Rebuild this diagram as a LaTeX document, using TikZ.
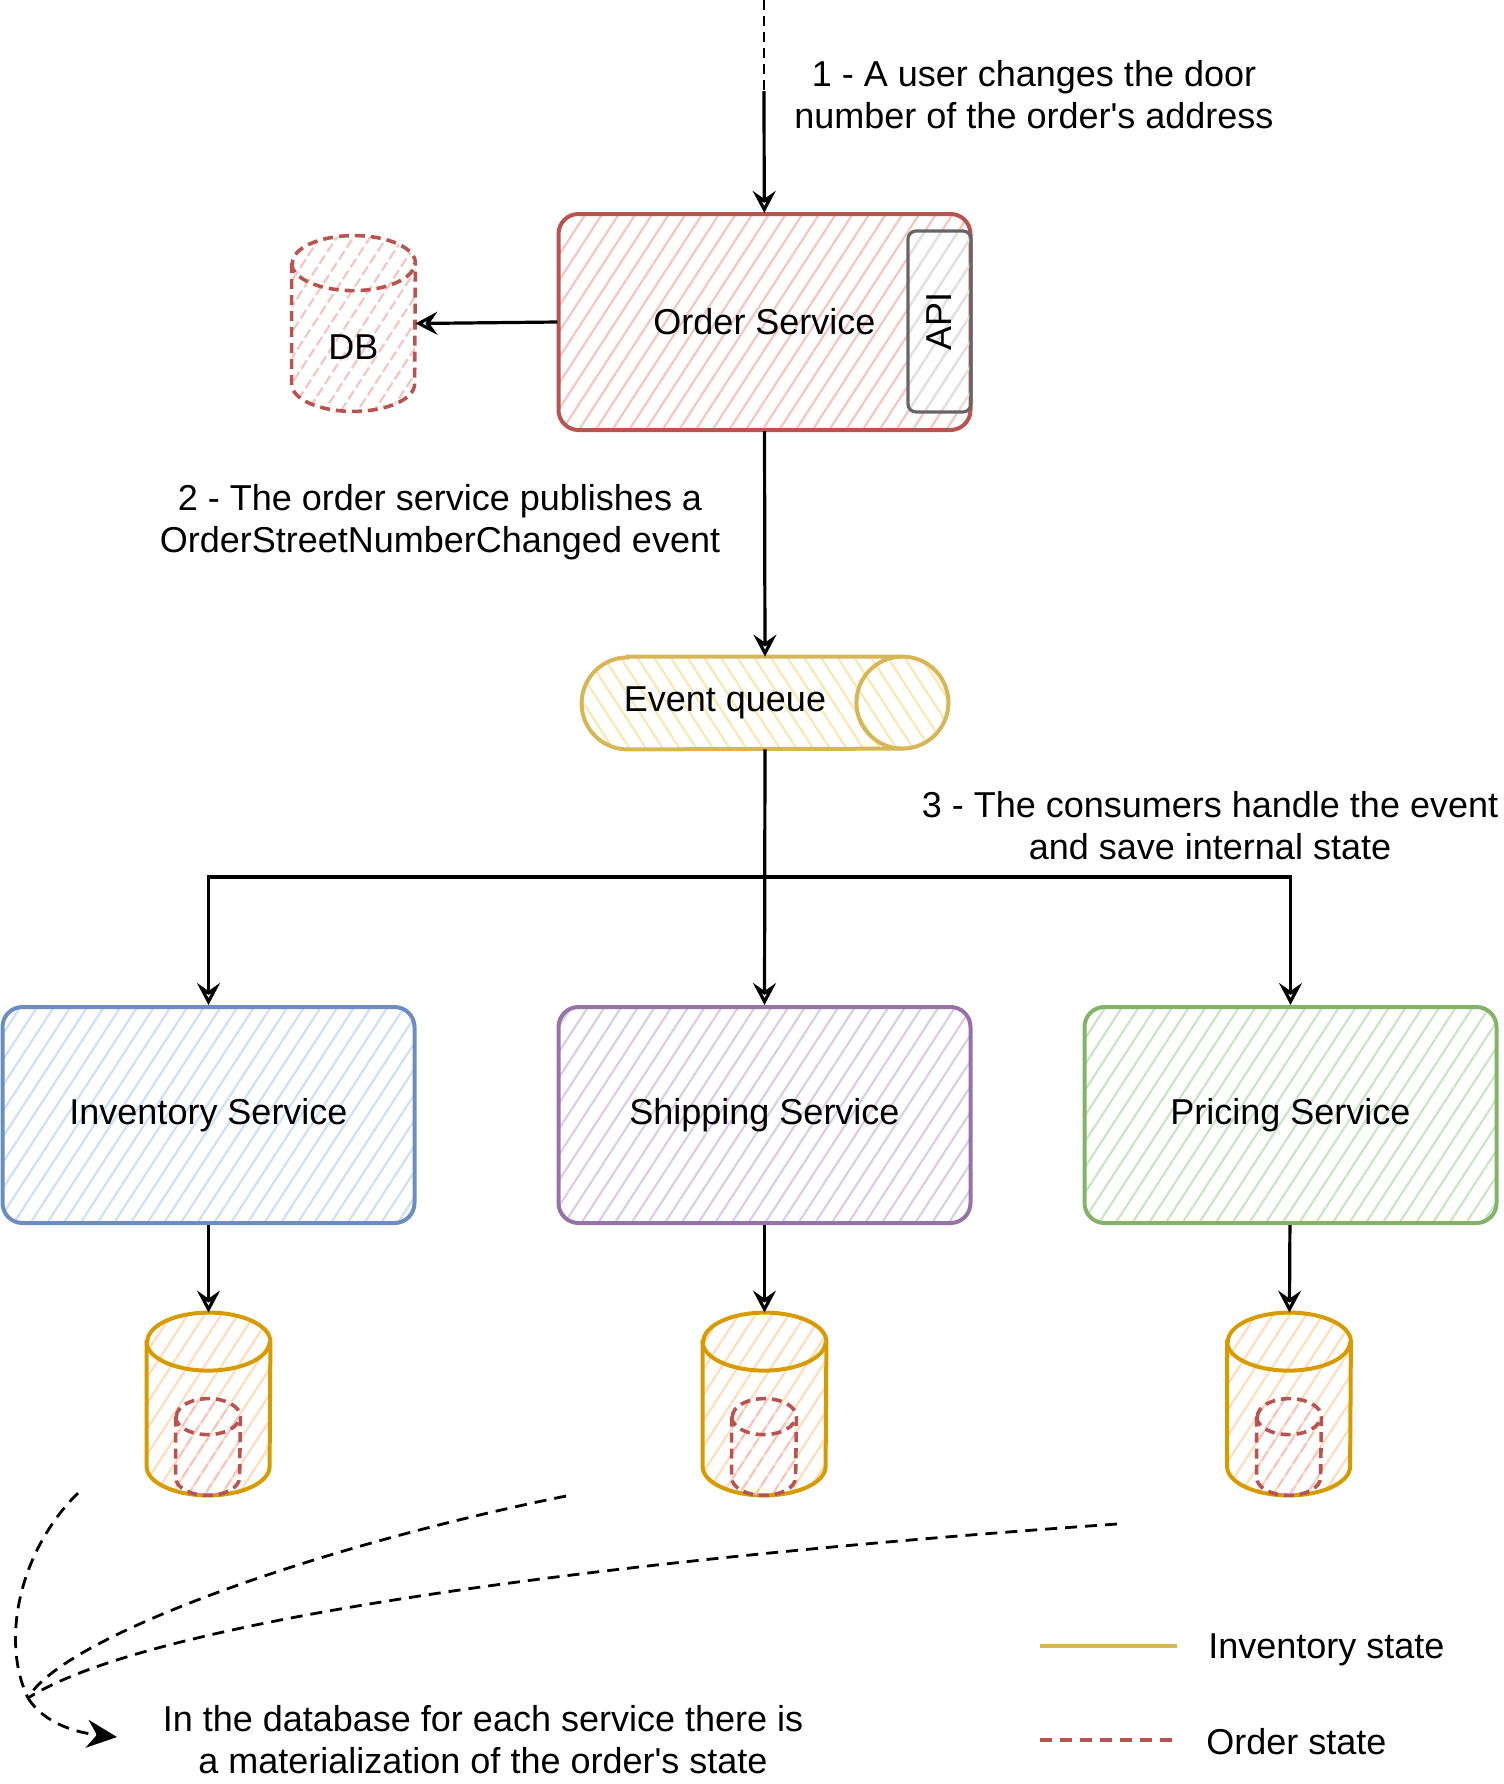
\documentclass[tikz,border=0pt]{standalone}
\usepackage{fontspec}
\setmainfont{Liberation Sans}
\usetikzlibrary{arrows.meta,patterns.meta}

\definecolor{ordline}{HTML}{B85450}
\definecolor{ordfill}{HTML}{F6C4C1}
\definecolor{apiline}{HTML}{666666}
\definecolor{apifill}{HTML}{E2E2E2}
\definecolor{queline}{HTML}{D6B656}
\definecolor{quefill}{HTML}{FBE8B0}
\definecolor{invline}{HTML}{6C8EBF}
\definecolor{invfill}{HTML}{CCE0F8}
\definecolor{shipline}{HTML}{9673A6}
\definecolor{shipfill}{HTML}{DCCCE4}
\definecolor{priceline}{HTML}{82B366}
\definecolor{pricefill}{HTML}{C9E4C6}
\definecolor{dbline}{HTML}{D79B00}
\definecolor{dbfill}{HTML}{FFDDBA}

% upright can round a node: name, half width, cap radius, line look, fill look
\newcommand{\drawcan}[5]{%
  \path[#4, #5] ([yshift=-#3]#1.north west) -- ([yshift=#3]#1.south west)
    arc[start angle=180, end angle=360, x radius=#2, y radius=#3]
    -- ([yshift=-#3]#1.north east)
    arc[start angle=0, end angle=180, x radius=#2, y radius=#3] -- cycle;
  \draw[#4] ([yshift=-#3]#1.north west)
    arc[start angle=180, end angle=360, x radius=#2, y radius=#3];
}

\begin{document}
\begin{tikzpicture}[x=0.5pt, y=-0.5pt,
    font=\fontsize{18}{21}\selectfont,
    hatch/.style={pattern={Lines[angle=57, distance=7pt, line width=1.1pt]},
        pattern color=#1},
    backhatch/.style={pattern={Lines[angle=123, distance=7pt, line width=1.1pt]},
        pattern color=#1},
    service/.style={rectangle, rounded corners=10pt, line width=2pt,
        minimum width=206pt, minimum height=108pt},
    holder/.style={rectangle, inner sep=0pt},
    store/.style={holder, minimum width=61.5pt, minimum height=91pt},
    orderstate/.style={holder, minimum width=32pt, minimum height=48pt},
    flow/.style={line width=1.6pt, -{Stealth[open, length=11pt, width=11.5pt, inset=4pt]}},
    remark/.style={line width=1.4pt, dash pattern=on 6pt off 4pt}
]
    \useasboundingbox (0,0) rectangle (1504,1784);

    % order side
    \node[service, draw=ordline, hatch=ordfill] (order) at (764.5,322) {Order Service};
    \node[rectangle, rotate=90, rounded corners=4pt, line width=1.6pt, draw=apiline,
        hatch=apifill, minimum width=90.5pt, minimum height=31.5pt] (api) at (939.5,321.5) {API};
    \node[holder, minimum width=61.5pt, minimum height=87.5pt] (db) at (353.5,323.5) {};
    \drawcan{db}{30.75pt}{13.75pt}{draw=ordline, line width=1.8pt, dash pattern=on 5pt off 3pt}{hatch=ordfill}
    \node (dblabel) at ([yshift=-12pt]db.center) {DB};

    \node[holder, minimum width=183pt, minimum height=46pt] (queue) at (765,703) {};
    \path[draw=queline, line width=2pt, backhatch=quefill]
        ([xshift=23pt]queue.north west) -- ([xshift=-23pt]queue.north east)
        arc[start angle=90, end angle=-90, x radius=23pt, y radius=23pt]
        -- ([xshift=23pt]queue.south west)
        arc[start angle=270, end angle=90, x radius=23pt, y radius=23pt] -- cycle;
    \draw[queline, line width=2pt] ([xshift=-23pt]queue.north east)
        arc[start angle=90, end angle=270, x radius=23pt, y radius=23pt];
    \node (quelabel) at ([xshift=-20pt]queue.center) {Event queue};

    % consumers
    \node[service, draw=invline, hatch=invfill] (inv) at (208.5,1115) {Inventory Service};
    \node[service, draw=shipline, hatch=shipfill] (ship) at (764.5,1115) {Shipping Service};
    \node[service, draw=priceline, hatch=pricefill] (price) at (1290.5,1115) {Pricing Service};

    \node[store] (invdb) at (208.5,1404) {};
    \node[store] (shipdb) at (764.5,1404) {};
    \node[store] (pricedb) at (1289,1404) {};
    \node[orderstate] (invord) at (208,1447) {};
    \node[orderstate] (shipord) at (764,1447) {};
    \node[orderstate] (priceord) at (1289,1447) {};
    \foreach \s in {invdb, shipdb, pricedb} {
        \drawcan{\s}{30.75pt}{14.5pt}{draw=dbline, line width=2pt}{hatch=dbfill}
    }
    \foreach \s in {invord, shipord, priceord} {
        \drawcan{\s}{16pt}{9pt}{draw=ordline, line width=1.8pt, dash pattern=on 5pt off 3pt}{hatch=ordfill}
    }

    % steps
    \node[align=center] (step1) at (1034,95) {1 - A user changes the door\\number of the order\textquotesingle s address};
    \node[align=center] (step2) at (440,522) {2 - The order service publishes a\\OrderStreetNumberChanged event};
    \node[align=center] (step3) at (1210,826) {3 - The consumers handle the event\\and save internal state};
    \node[align=center] (summary) at (483,1740) {In the database for each service there is\\a materialization of the order\textquotesingle s state};

    \coordinate (entry) at (764,0);
    \coordinate (entrydash) at (764,91);
    \draw[line width=1.3pt, dash pattern=on 5pt off 3pt] (entry) -- (entrydash);
    \draw[flow] (entrydash) -- (order);
    \draw[flow] (order.west) -- (db.east);
    \draw[flow] (order.south) -- (queue.north);

    \coordinate (split) at (765,877);
    \draw[flow] (queue.south) -- (ship.north);
    \draw[flow] (split) -| (inv.north);
    \draw[flow] (split) -| (price.north);

    \draw[flow] (inv) -- (invdb);
    \draw[flow] (ship) -- (shipdb);
    \draw[flow] (price) -- (pricedb);

    % materialization remark
    \coordinate (from1) at (78,1493);
    \coordinate (from2) at (566,1496);
    \coordinate (from3) at (1117,1524);
    \coordinate (merge) at (28,1698);
    \coordinate (tip) at (117,1737);
    \draw[remark] (from1) .. controls (20,1550) and (0,1640) .. (merge);
    \draw[remark] (from2) .. controls (300,1550) and (60,1640) .. (merge);
    \draw[remark] (from3) .. controls (600,1560) and (150,1620) .. (merge);
    \draw[remark, -{Stealth[length=15pt, width=14pt]}] (merge) .. controls (45,1725) and (80,1733) .. (tip);

    % legend
    \coordinate (invkeyA) at (1040,1646);
    \coordinate (invkeyB) at (1177,1646);
    \coordinate (ordkeyA) at (1040,1740);
    \coordinate (ordkeyB) at (1177,1740);
    \draw[line width=1.6pt, queline] (invkeyA) -- (invkeyB);
    \draw[line width=2.2pt, ordline, dash pattern=on 6pt off 4pt] (ordkeyA) -- (ordkeyB);
    \node[anchor=west, inner sep=0pt] (invkey) at (1208,1650) {Inventory state};
    \node[anchor=west, inner sep=0pt] (ordkey) at (1206,1742) {Order state};
\end{tikzpicture}
\end{document}
